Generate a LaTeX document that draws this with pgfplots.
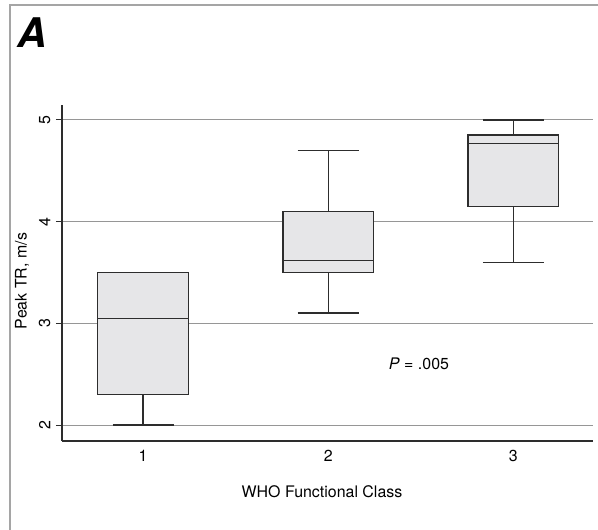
\documentclass[border=0pt]{standalone}
\usepackage{fontspec}
\setmainfont{TeX Gyre Heros}
\usepackage{pgfplots}
\pgfplotsset{compat=1.18}
\usepgfplotslibrary{statistics}
\definecolor{boxfill}{RGB}{230,230,232}
\definecolor{edge}{RGB}{45,45,45}
\definecolor{gridc}{RGB}{150,150,150}
\definecolor{framec}{RGB}{165,165,165}
\begin{document}
\begin{tikzpicture}
\begin{axis}[
  at={(62bp,89bp)}, anchor=south west, scale only axis,
  width=531bp, height=336bp,
  xmin=0.562, xmax=3.43, ymin=1.843, ymax=5.147,
  axis x line*=bottom, axis y line*=left,
  axis line style={-, draw=edge, line width=1.3bp},
  xtick={1,2,3}, ytick={2,3,4,5},
  xtick style={draw=none},
  ytick style={draw=edge, line width=1bp},
  tick align=outside, major tick length=6bp,
  ymajorgrids, grid style={gridc, line width=1bp},
  /pgf/number format/assume math mode=true,
  tick label style={font=\fontsize{16}{19}\selectfont},
  yticklabel style={rotate=90, anchor=south, inner sep=5.5bp},
  xticklabel style={inner sep=3bp},
  boxplot/draw direction=y,
]
\addplot[draw=edge, fill=boxfill, line width=1.4bp, solid,
  boxplot prepared={draw position=1, lower whisker=2.0, lower quartile=2.3,
  median=3.05, upper quartile=3.5, upper whisker=3.5,
  box extend=0.49, whisker extend=0.33}] coordinates {};
\addplot[draw=edge, fill=boxfill, line width=1.4bp, solid,
  boxplot prepared={draw position=2, lower whisker=3.1, lower quartile=3.5,
  median=3.62, upper quartile=4.1, upper whisker=4.7,
  box extend=0.49, whisker extend=0.33}] coordinates {};
\addplot[draw=edge, fill=boxfill, line width=1.4bp, solid,
  boxplot prepared={draw position=3, lower whisker=3.6, lower quartile=4.15,
  median=4.77, upper quartile=4.85, upper whisker=5.0,
  box extend=0.49, whisker extend=0.33}] coordinates {};
\node[font=\fontsize{16}{19}\selectfont] at (axis cs:2.49,2.60) {\textit{P} = .005};
\end{axis}
\draw[framec, line width=1.5bp] (10bp,0bp) -- (10bp,525bp) -- (598bp,525bp);
\node[anchor=base west, inner sep=0, font=\fontsize{41}{42}\selectfont\bfseries\itshape] at (17bp,482bp) {A};
\node[rotate=90, font=\fontsize{16}{19}\selectfont] at (22bp,249bp) {Peak TR, m/s};
\node[font=\fontsize{16}{19}\selectfont] at (322bp,38bp) {WHO Functional Class};
\pgfresetboundingbox
\path[use as bounding box] (0bp,0bp) rectangle (598bp,530bp);
\end{tikzpicture}
\end{document}
